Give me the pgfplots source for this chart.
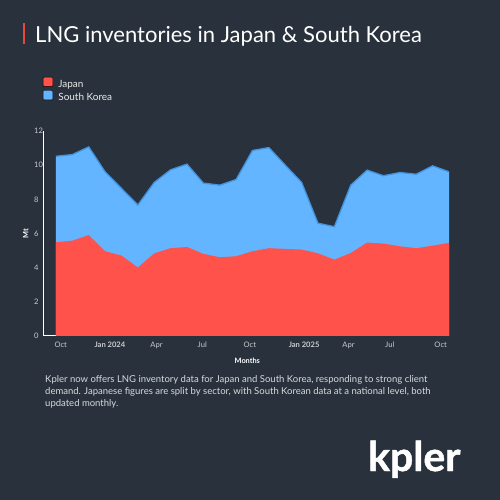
\documentclass[border=0pt]{standalone}
\usepackage{fontspec}
\setmainfont{Lato}
\newfontfamily\logofont{Lato}[BoldFeatures={FakeBold=1.2}]
\usepackage{pgfplots}
\usepackage{pgfplotstable}
\pgfplotsset{compat=1.18}
\definecolor{bg}{RGB}{41,50,60}
\definecolor{jred}{RGB}{255,82,74}
\definecolor{kblue}{RGB}{100,181,255}
\definecolor{kedge}{RGB}{66,146,222}
\definecolor{ticklab}{RGB}{200,204,208}
\definecolor{bodytext}{RGB}{215,218,222}
\definecolor{titlebar}{RGB}{232,72,62}
\pgfplotstableread{
idx japan korea
0  5.49 5.03
1  5.58 5.04
2  5.91 5.16
3  4.96 4.65
4  4.71 3.93
5  4.01 3.66
6  4.84 4.15
7  5.14 4.59
8  5.21 4.85
9  4.81 4.14
10 4.61 4.22
11 4.67 4.49
12 4.96 5.90
13 5.14 5.89
14 5.10 4.90
15 5.06 3.93
16 4.84 1.76
17 4.47 1.93
18 4.86 3.97
19 5.47 4.24
20 5.41 3.97
21 5.25 4.32
22 5.14 4.33
23 5.29 4.67
24 5.45 4.16
}\lngdata
\pgfplotstablecreatecol[expr={\thisrow{japan}+\thisrow{korea}}]{total}\lngdata
\begin{document}
\begin{tikzpicture}
\fill[bg] (0,0) rectangle (500bp,500bp);
\path[use as bounding box] (0,0) rectangle (500bp,500bp);
\fill[titlebar] (22.7bp,455.7bp) rectangle (25.4bp,476.7bp);
\node[anchor=base west, inner sep=0pt, text=white, font=\fontsize{22.1}{25}\selectfont] at (35bp,457.7bp) {LNG inventories in Japan \& South Korea};
\begin{axis}[
  at={(44bp,164bp)}, anchor=south west,
  scale only axis, width=405bp, height=205bp,
  xmin=-0.732, xmax=24, ymin=0, ymax=12,
  axis x line=bottom, axis y line=left,
  axis line style={white, line width=1bp, -},
  major tick length=0pt,
  xtick={0.29,3.29,6.14,8.93,11.84,15.15,17.86,20.38,23.49},
  xticklabels={Oct,\textbf{Jan 2024},Apr,Jul,Oct,\textbf{Jan 2025},Apr,Jul,Oct},
  ytick={0,2,...,12},
  /pgf/number format/assume math mode=true,
  ticklabel style={font=\fontsize{7.6}{8.5}\selectfont, text=ticklab, inner sep=0pt},
  xticklabel style={anchor=base, yshift=-11.9bp},
  yticklabel style={anchor=west, xshift=-10bp},
  xlabel={Months}, ylabel={Mt},
  xlabel style={at={(axis description cs:0.502,-0.1205)}, anchor=center, font=\bfseries\fontsize{7.4}{8}\selectfont, text=white},
  ylabel style={at={(axis description cs:-0.045,0.5)}, anchor=center, font=\bfseries\fontsize{7.4}{8}\selectfont, text=white},
  legend style={draw=none, fill=none, at={(axis description cs:-0.0025,1.264)}, anchor=north west,
    inner sep=0pt, outer sep=0pt, row sep=0bp, font=\fontsize{10}{12}\selectfont, text=white!92!black,
    nodes={inner sep=0pt, text height=7.5bp, text depth=2.5bp},
    /tikz/every odd column/.style={column sep=5.4bp}},
  legend cell align=left,
  legend image code/.code={\fill[#1, rounded corners=1bp] (0bp,-1.6bp) rectangle (9.6bp,8bp);},
]
\addplot[fill=kblue, draw=none, forget plot] table[x=idx, y=total]{\lngdata} \closedcycle;
\addplot[fill=jred, draw=none, forget plot] table[x=idx, y=japan]{\lngdata} \closedcycle;
\addplot[draw=kedge, line width=1.3bp, forget plot] table[x=idx, y=total]{\lngdata};
\addlegendimage{fill=jred}
\addlegendentry{Japan}
\addlegendimage{fill=kblue}
\addlegendentry{South Korea}
\end{axis}
\node[anchor=base west, inner sep=0pt, text=bodytext, font=\fontsize{9.55}{12.2}\selectfont] at (45bp,117.7bp) {Kpler now offers LNG inventory data for Japan and South Korea, responding to strong client};
\node[anchor=base west, inner sep=0pt, text=bodytext, font=\fontsize{9.55}{12.2}\selectfont] at (45bp,105.5bp) {demand. Japanese figures are split by sector, with South Korean data at a national level, both};
\node[anchor=base west, inner sep=0pt, text=bodytext, font=\fontsize{9.55}{12.2}\selectfont] at (45bp,93.3bp) {updated monthly.};
\node[anchor=base west, inner sep=0pt, text=white, font=\logofont\bfseries\fontsize{41}{42}\selectfont] at (368bp,29bp) {kpler};
\end{tikzpicture}
\end{document}
